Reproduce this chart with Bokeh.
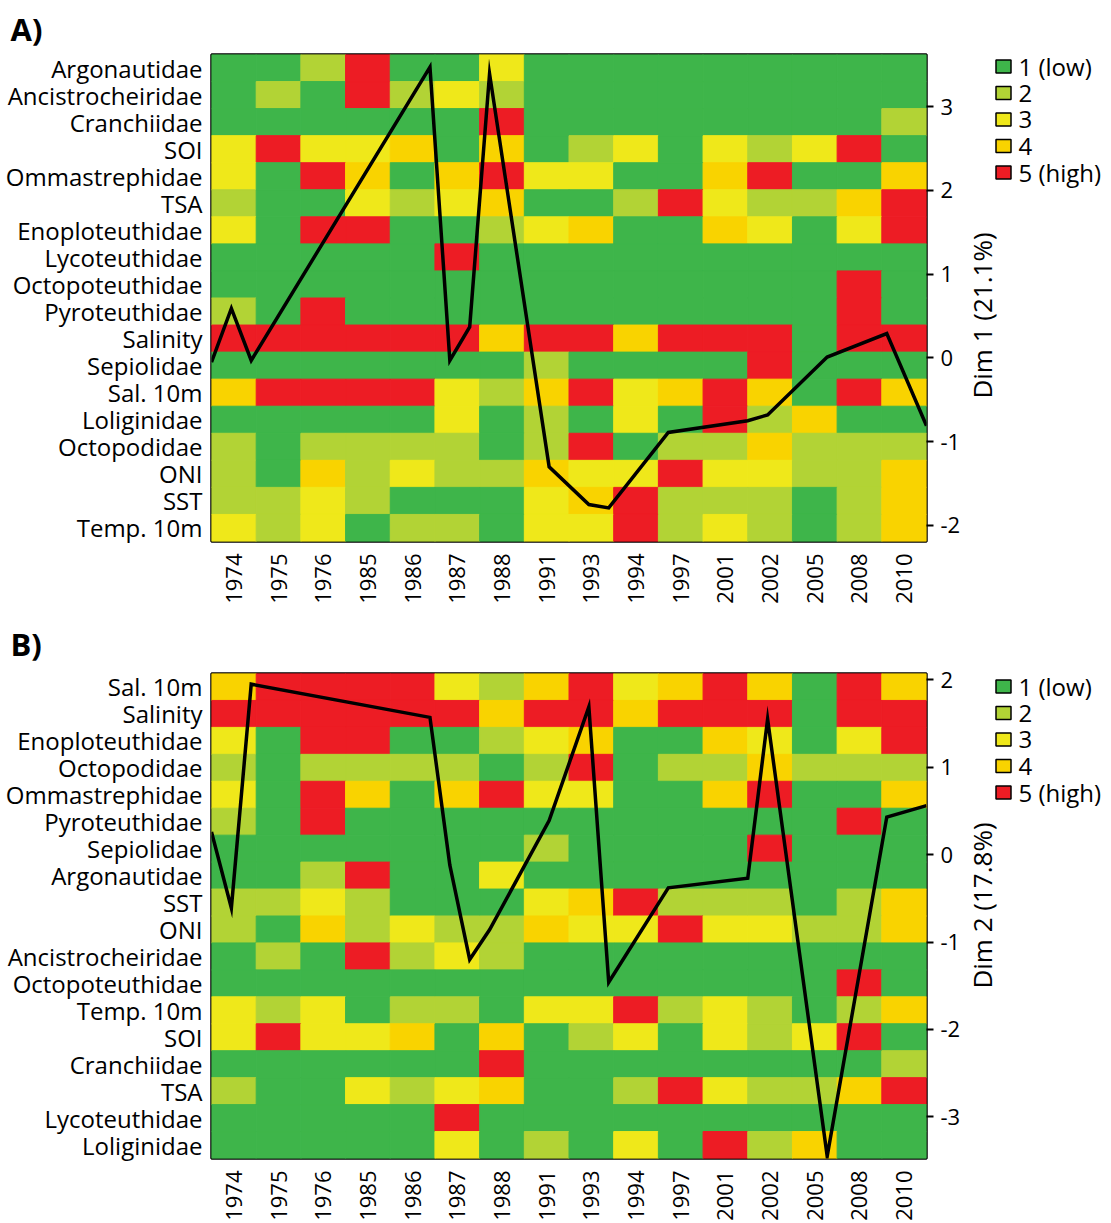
import math

from bokeh.core.properties import value
from bokeh.embed import file_html
from bokeh.layouts import column, row
from bokeh.models import ColumnDataSource, FixedTicker, LinearAxis, Range1d
from bokeh.plotting import figure
from bokeh.resources import INLINE
from bokeh.transform import linear_cmap

FONT = "Open Sans"

years = ["1974", "1975", "1976", "1985", "1986", "1987", "1988", "1991",
         "1993", "1994", "1997", "2001", "2002", "2005", "2008", "2010"]

# class of each variable per sampled year (1 = low ... 5 = high)
argonautidae      = [1, 1, 2, 5, 1, 1, 3, 1, 1, 1, 1, 1, 1, 1, 1, 1]
ancistrocheiridae = [1, 2, 1, 5, 2, 3, 2, 1, 1, 1, 1, 1, 1, 1, 1, 1]
cranchiidae       = [1, 1, 1, 1, 1, 1, 5, 1, 1, 1, 1, 1, 1, 1, 1, 2]
soi               = [3, 5, 3, 3, 4, 1, 4, 1, 2, 3, 1, 3, 2, 3, 5, 1]
ommastrephidae    = [3, 1, 5, 4, 1, 4, 5, 3, 3, 1, 1, 4, 5, 1, 1, 4]
tsa               = [2, 1, 1, 3, 2, 3, 4, 1, 1, 2, 5, 3, 2, 2, 4, 5]
enoploteuthidae   = [3, 1, 5, 5, 1, 1, 2, 3, 4, 1, 1, 4, 3, 1, 3, 5]
lycoteuthidae     = [1, 1, 1, 1, 1, 5, 1, 1, 1, 1, 1, 1, 1, 1, 1, 1]
octopoteuthidae   = [1, 1, 1, 1, 1, 1, 1, 1, 1, 1, 1, 1, 1, 1, 5, 1]
pyroteuthidae     = [2, 1, 5, 1, 1, 1, 1, 1, 1, 1, 1, 1, 1, 1, 5, 1]
salinity          = [5, 5, 5, 5, 5, 5, 4, 5, 5, 4, 5, 5, 5, 1, 5, 5]
sepiolidae        = [1, 1, 1, 1, 1, 1, 1, 2, 1, 1, 1, 1, 5, 1, 1, 1]
sal_10m           = [4, 5, 5, 5, 5, 3, 2, 4, 5, 3, 4, 5, 4, 1, 5, 4]
loliginidae       = [1, 1, 1, 1, 1, 3, 1, 2, 1, 3, 1, 5, 2, 4, 1, 1]
octopodidae       = [2, 1, 2, 2, 2, 2, 1, 2, 5, 1, 2, 2, 4, 2, 2, 2]
oni               = [2, 1, 4, 2, 3, 2, 2, 4, 3, 3, 5, 3, 3, 2, 2, 4]
sst               = [2, 2, 3, 2, 1, 1, 1, 3, 4, 5, 2, 2, 2, 1, 2, 4]
temp_10m          = [3, 2, 3, 1, 2, 2, 1, 3, 3, 5, 2, 3, 2, 1, 2, 4]

classes = {
    "Argonautidae": argonautidae, "Ancistrocheiridae": ancistrocheiridae,
    "Cranchiidae": cranchiidae, "SOI": soi, "Ommastrephidae": ommastrephidae,
    "TSA": tsa, "Enoploteuthidae": enoploteuthidae, "Lycoteuthidae": lycoteuthidae,
    "Octopoteuthidae": octopoteuthidae, "Pyroteuthidae": pyroteuthidae,
    "Salinity": salinity, "Sepiolidae": sepiolidae, "Sal. 10m": sal_10m,
    "Loliginidae": loliginidae, "Octopodidae": octopodidae, "ONI": oni,
    "SST": sst, "Temp. 10m": temp_10m,
}

# row order (top to bottom), sorted by each dimension
order_dim1 = ["Argonautidae", "Ancistrocheiridae", "Cranchiidae", "SOI",
              "Ommastrephidae", "TSA", "Enoploteuthidae", "Lycoteuthidae",
              "Octopoteuthidae", "Pyroteuthidae", "Salinity", "Sepiolidae",
              "Sal. 10m", "Loliginidae", "Octopodidae", "ONI", "SST", "Temp. 10m"]
order_dim2 = ["Sal. 10m", "Salinity", "Enoploteuthidae", "Octopodidae",
              "Ommastrephidae", "Pyroteuthidae", "Sepiolidae", "Argonautidae",
              "SST", "ONI", "Ancistrocheiridae", "Octopoteuthidae", "Temp. 10m",
              "SOI", "Cranchiidae", "TSA", "Lycoteuthidae", "Loliginidae"]

# yearly scores on the first two dimensions
dim1_scores = [-0.05, 0.59, -0.03, 3.47, -0.03, 0.37, 3.39, -1.30,
               -1.75, -1.79, -0.89, -0.75, -0.68, 0.01, 0.29, -0.81]
dim2_scores = [0.26, -0.61, 1.95, 1.57, -0.12, -1.20, -0.86, 0.39,
               1.69, -1.46, -0.38, -0.27, 1.55, -3.45, 0.43, 0.56]

class_labels = ["1 (low)", "2", "3", "4", "5 (high)"]
class_colors = ["#3EB54A", "#B2D335", "#EFE81A", "#F9D300", "#ED1C24"]
dim_titles = ["Dim 1 (21.1%)", "Dim 2 (17.8%)"]

W, H = 1111, 1223
H_A, H_B = 612, 611
PANEL_W = 963                 # heatmap figures; the key column fills the rest
KEY_W = W - PANEL_W
BORDER_L, BORDER_R = 211, 36
N_COL = len(years)


def make_panel(order, scores, tag, dim_lo, dim_hi, dim_ticks,
               height, top, bottom, tag_standoff):
    n_row = len(order)
    p = figure(width=PANEL_W, height=height,
               x_range=Range1d(0, N_COL), y_range=Range1d(0, n_row),
               output_backend="svg", toolbar_location=None,
               min_border_left=BORDER_L, min_border_right=BORDER_R,
               min_border_top=top, min_border_bottom=bottom)
    p.extra_x_ranges = {"yr": Range1d(int(years[0]), int(years[-1]))}
    p.extra_y_ranges = {"dim": Range1d(dim_lo, dim_hi)}
    p.grid.visible = False
    p.outline_line_color = "black"
    p.outline_line_width = 2.5

    # panel tag in the top-left corner
    p.title.text = tag
    p.title.align = "left"
    p.title.offset = 10 - BORDER_L
    p.title.standoff = tag_standoff
    p.title.text_font = FONT
    p.title.text_font_size = "31px"
    p.title.text_font_style = "bold"
    p.title.text_color = "black"

    # heatmap cells: column i, row j (row 0 on top)
    col_pos = [i + 0.5 for i in range(N_COL)]
    row_pos = [n_row - j - 0.5 for j in range(n_row)]
    src = ColumnDataSource(dict(
        x=[col_pos[i] for j in range(n_row) for i in range(N_COL)],
        y=[row_pos[j] for j in range(n_row) for i in range(N_COL)],
        cls=[classes[v][i] for v in order for i in range(N_COL)],
    ))
    cmap = linear_cmap("cls", class_colors, 0.5, 5.5)
    p.rect("x", "y", width=1, height=1, source=src,
           fill_color=cmap, line_color=cmap, line_width=1)

    # score trajectory over time
    p.line([int(y) for y in years], scores, x_range_name="yr", y_range_name="dim",
           line_color="black", line_width=3.5, line_join="miter")

    # year and variable axes
    p.xaxis[0].ticker = FixedTicker(ticks=col_pos)
    p.xaxis[0].major_label_overrides = dict(zip(col_pos, years))
    p.yaxis[0].ticker = FixedTicker(ticks=row_pos)
    p.yaxis[0].major_label_overrides = dict(zip(row_pos, order))
    for ax in (p.xaxis[0], p.yaxis[0]):
        ax.axis_line_color = None
        ax.major_tick_line_color = None
        ax.minor_tick_line_color = None
        ax.major_tick_out = 0
        ax.major_tick_in = 0
        ax.major_label_text_font = FONT
        ax.major_label_text_color = "black"
    p.yaxis[0].major_label_text_font_size = "24px"
    p.yaxis[0].major_label_standoff = 9
    p.xaxis[0].major_label_text_font_size = "22px"
    p.xaxis[0].major_label_orientation = math.pi / 2
    p.xaxis[0].major_label_standoff = 12

    # score axis on the right
    right = LinearAxis(y_range_name="dim", ticker=FixedTicker(ticks=dim_ticks))
    right.major_label_overrides = {t: str(t) for t in dim_ticks}
    right.axis_line_color = None
    right.major_tick_out = 7
    right.major_tick_in = 0
    right.major_tick_line_width = 2
    right.major_tick_line_color = "black"
    right.minor_tick_line_color = None
    right.major_label_standoff = 7
    right.major_label_text_font = FONT
    right.major_label_text_font_size = "22px"
    right.major_label_text_color = "black"
    p.add_layout(right, "right")
    return p


def make_key():
    """Score-axis titles and the class colour keys, in page pixels (y up)."""
    k = figure(width=KEY_W, height=H, x_range=Range1d(0, KEY_W),
               y_range=Range1d(0, H), output_backend="svg",
               toolbar_location=None, x_axis_type=None, y_axis_type=None,
               min_border=0)
    k.outline_line_color = None
    k.grid.visible = False

    title_centres = [315, 905]          # from the top of the page
    key_tops = [66, 686]
    step = 26.5
    k.text(x=[18, 18], y=[H - c for c in title_centres], text=dim_titles,
           angle=math.pi / 2, text_align="center", text_baseline="middle",
           text_font=value(FONT), text_font_size="26px", text_color="black")

    n = len(class_labels)
    for top in key_tops:
        ys = [H - (top + i * step) for i in range(n)]
        k.rect(x=[40] * n, y=ys, width=15, height=13,
               width_units="screen", height_units="screen",
               fill_color=class_colors, line_color="black", line_width=1.5)
        k.text(x=[55] * n, y=ys, text=class_labels,
               text_align="left", text_baseline="middle",
               text_font=value(FONT), text_font_size="24px", text_color="black")
    return k


panel_a = make_panel(order_dim1, dim1_scores, "A)", -2.191, 3.621,
                     [-2, -1, 0, 1, 2, 3], H_A, 54, 71, 10)
panel_b = make_panel(order_dim2, dim2_scores, "B)", -3.476, 2.072,
                     [-3, -2, -1, 0, 1, 2], H_B, 61, 64, 17)
key = make_key()

layout = row(column(panel_a, panel_b, spacing=0), key, spacing=0)
open("out.html", "w").write(file_html(layout, INLINE))
